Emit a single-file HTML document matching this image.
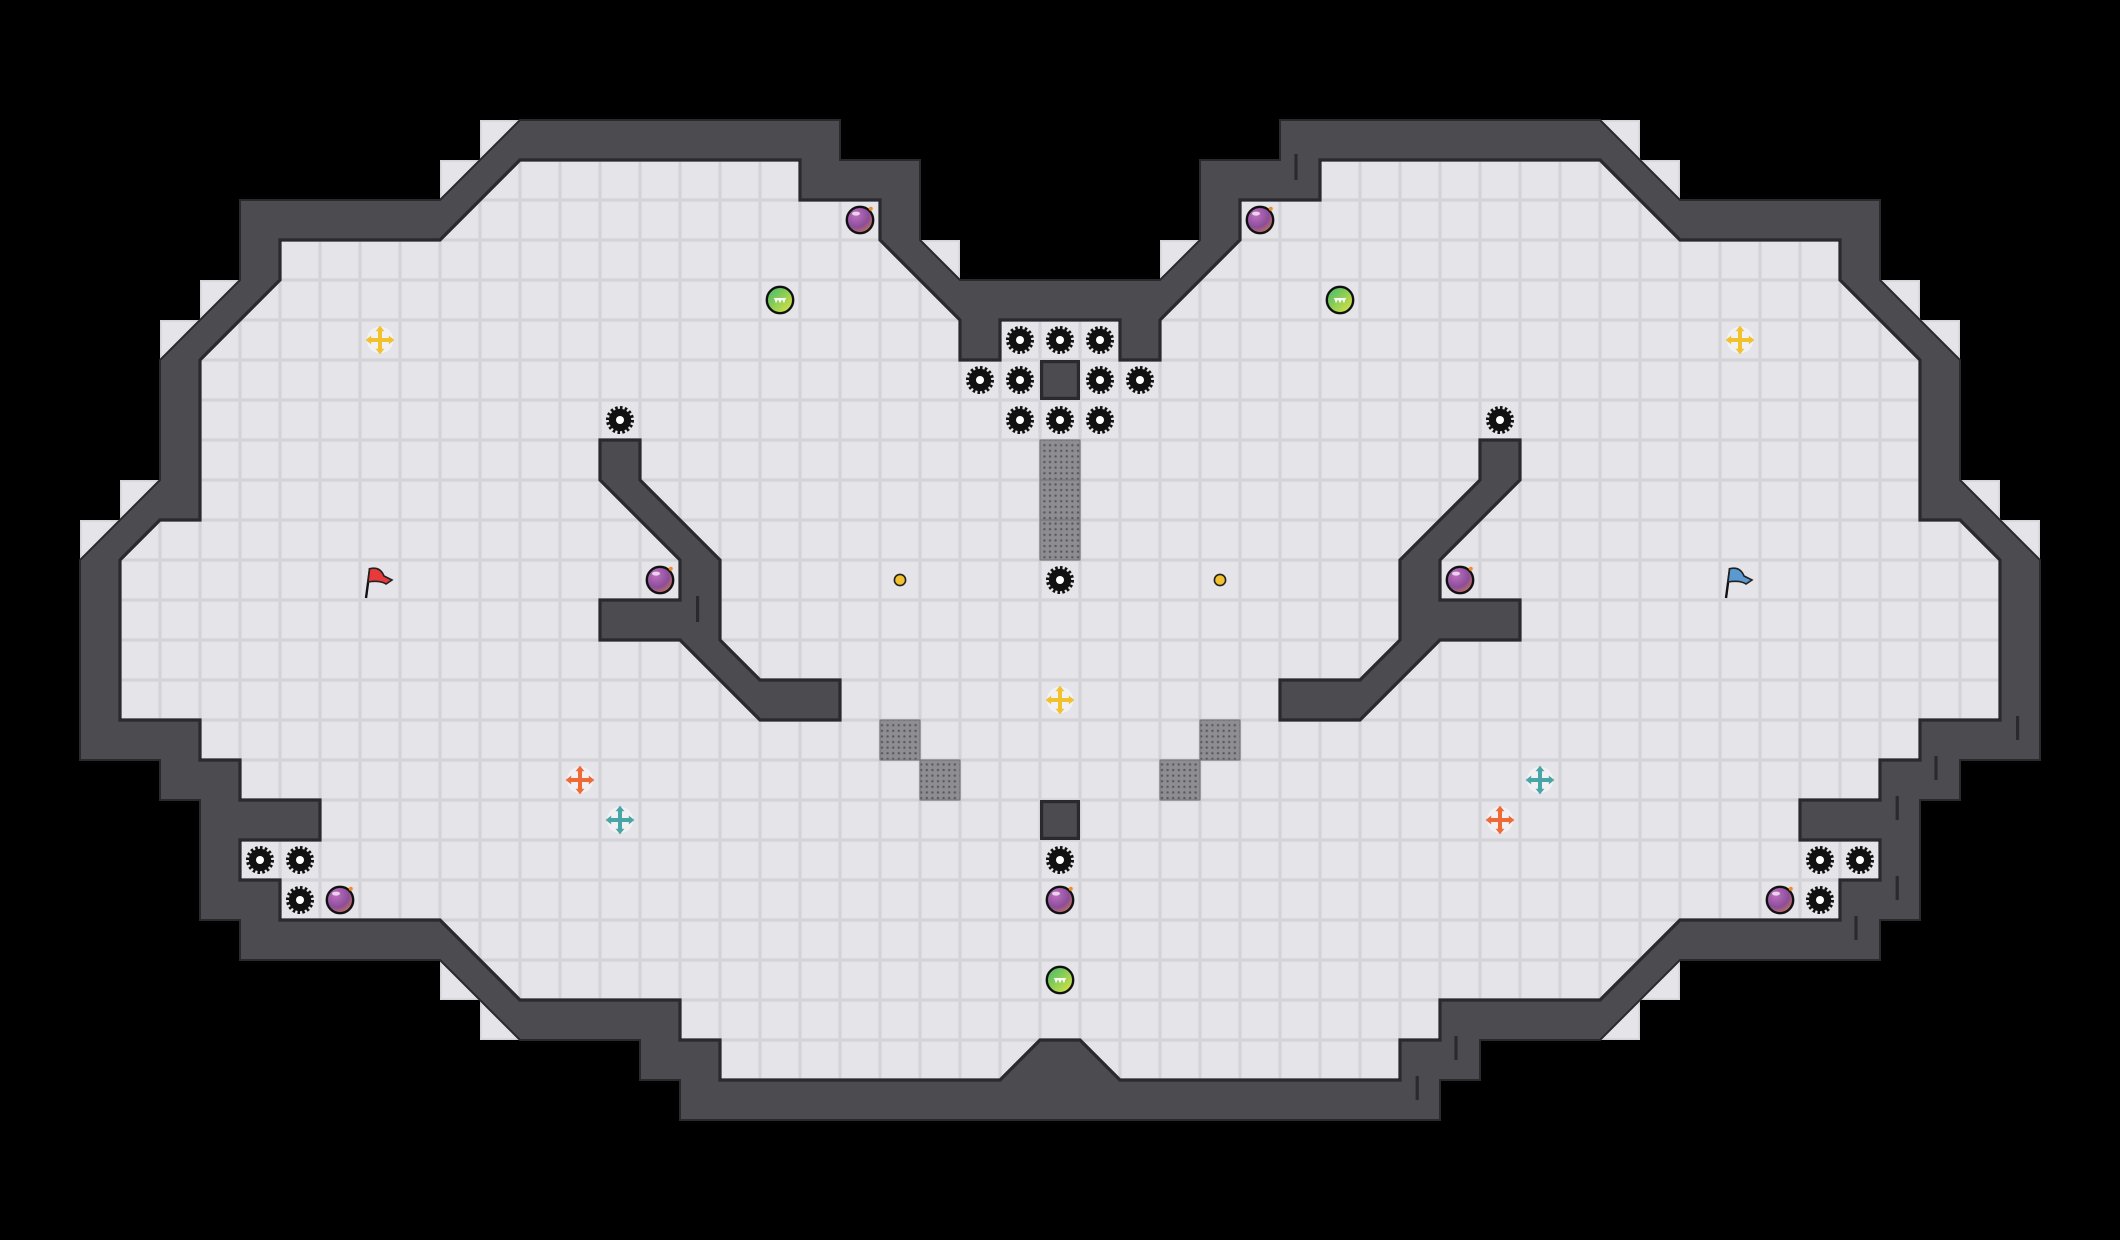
<!DOCTYPE html>
<html><head><meta charset="utf-8"><style>html,body{margin:0;padding:0;background:#000;}svg{display:block}</style></head>
<body>
<svg width="2120" height="1240" viewBox="0 0 2120 1240" xmlns="http://www.w3.org/2000/svg">
<defs>
<pattern id="tile" patternUnits="userSpaceOnUse" width="1" height="1">
<rect width="1" height="1" fill="#d3d3d8"/>
<rect x="0.04" y="0.04" width="0.92" height="0.92" fill="#e5e5e9"/>
</pattern>
<pattern id="dots" patternUnits="userSpaceOnUse" width="0.14" height="0.14">
<rect width="0.14" height="0.14" fill="#8e8e92"/>
<circle cx="0.07" cy="0.07" r="0.03" fill="#5a5a5e"/>
</pattern>
<radialGradient id="bomb" cx="0.35" cy="0.3" r="0.8">
<stop offset="0" stop-color="#c070c0"/><stop offset="0.6" stop-color="#8a4e9a"/><stop offset="1" stop-color="#d0784a"/>
</radialGradient>
<linearGradient id="green" x1="0" y1="0" x2="1" y2="1">
<stop offset="0" stop-color="#3cb86a"/><stop offset="1" stop-color="#e6e640"/>
</linearGradient>
<g id="gear">
<circle r="0.3" fill="none" stroke="#111" stroke-width="0.1" stroke-dasharray="0.062 0.055"/>
<circle r="0.28" fill="#111"/>
<circle r="0.1" fill="#fff"/>
</g>
<g id="bombg">
<circle r="0.33" fill="url(#bomb)" stroke="#111" stroke-width="0.06"/>
<ellipse cx="-0.1" cy="-0.16" rx="0.1" ry="0.05" fill="#fff" opacity="0.7"/>
<circle cx="0.27" cy="-0.28" r="0.05" fill="#f0902a"/>
</g>
<g id="ball">
<circle r="0.33" fill="url(#green)" stroke="#111" stroke-width="0.06"/>
<path d="M-0.15,-0.05 L0.15,-0.05 L0.1,0.08 L0.05,-0.02 L0,0.08 L-0.05,-0.02 L-0.1,0.08 Z" fill="#fff"/>
</g>
<g id="cross">
<circle r="0.33" fill="#f2f2f4" opacity="0.9"/>
<rect x="-0.05" y="-0.25" width="0.1" height="0.5"/>
<rect x="-0.25" y="-0.05" width="0.5" height="0.1"/>
<path d="M0,-0.36 L-0.11,-0.22 L0.11,-0.22Z M0,0.36 L-0.11,0.22 L0.11,0.22Z M-0.36,0 L-0.22,-0.11 L-0.22,0.11Z M0.36,0 L0.22,-0.11 L0.22,0.11Z"/>
</g>
</defs>
<rect width="2120" height="1240" fill="#000"/>
<g transform="scale(40)">
<!-- light tiles outside diagonals -->
<g fill="url(#tile)">
<rect x="23" y="6" width="1" height="1"/><rect x="12" y="3" width="1" height="1"/><rect x="11" y="4" width="1" height="1"/>
<rect x="5" y="7" width="1" height="1"/><rect x="4" y="8" width="1" height="1"/><rect x="3" y="12" width="1" height="1"/>
<rect x="2" y="13" width="1" height="1"/><rect x="11" y="24" width="1" height="1"/><rect x="12" y="25" width="1" height="1"/>
<rect x="29" y="6" width="1" height="1"/><rect x="40" y="3" width="1" height="1"/><rect x="41" y="4" width="1" height="1"/>
<rect x="47" y="7" width="1" height="1"/><rect x="48" y="8" width="1" height="1"/><rect x="49" y="12" width="1" height="1"/>
<rect x="50" y="13" width="1" height="1"/><rect x="41" y="24" width="1" height="1"/><rect x="40" y="25" width="1" height="1"/>
</g>
<polygon fill="#4b4b50" stroke="#2a2a2e" stroke-width="0.05" points="24,7 23,6 23,4 21,4 21,3 13,3 11,5 6,5 6,7 4,9 4,12 2,14 2,19 4,19 4,20 5,20 5,23 6,23 6,24 11,24 13,26 16,26 16,27 17,27 17,28 36,28 36,27 37,27 37,26 40,26 42,24 47,24 47,23 48,23 48,20 49,20 49,19 51,19 51,14 49,12 49,9 47,7 47,5 42,5 40,3 32,3 32,4 30,4 30,6 29,7"/>
<polygon fill="url(#tile)" stroke="#2a2a2e" stroke-width="0.08" points="25,8 25,9 24,9 24,8 22,6 22,5 20,5 20,4 13,4 11,6 7,6 7,7 5,9 5,13 4,13 3,14 3,18 5,18 5,19 6,19 6,20 8,20 8,21 6,21 6,22 7,22 7,23 11,23 13,25 17,25 17,26 18,26 18,27 25,27 26,26 27,26 28,27 35,27 35,26 36,26 36,25 40,25 42,23 46,23 46,22 47,22 47,21 45,21 45,20 47,20 47,19 48,19 48,18 50,18 50,14 49,13 48,13 48,9 46,7 46,6 42,6 40,4 33,4 33,5 31,5 31,6 29,8 29,9 28,9 28,8"/>
<g fill="#4b4b50" stroke="#2a2a2e" stroke-width="0.08">
<polygon points="15,11 16,11 16,12 18,14 18,16 19,17 21,17 21,18 19,18 17,16 15,16 15,15 17,15 17,14 15,12"/>
<polygon points="38,11 37,11 37,12 35,14 35,16 34,17 32,17 32,18 34,18 36,16 38,16 38,15 36,15 36,14 38,12"/>
<rect x="26.04" y="9.04" width="0.92" height="0.92"/>
<rect x="26.04" y="20.04" width="0.92" height="0.92"/>
</g>
<g fill="url(#dots)" stroke="#777" stroke-width="0.03">
<rect x="26" y="11" width="1" height="1"/><rect x="26" y="12" width="1" height="1"/><rect x="26" y="13" width="1" height="1"/>
<rect x="22" y="18" width="1" height="1"/><rect x="23" y="19" width="1" height="1"/>
<rect x="30" y="18" width="1" height="1"/><rect x="29" y="19" width="1" height="1"/>
</g>
<g stroke="#2a2a2e" stroke-width="0.08">
<line x1="32.4" y1="3.85" x2="32.4" y2="4.5"/><line x1="17.44" y1="14.9" x2="17.44" y2="15.55"/>
<line x1="50.44" y1="17.9" x2="50.44" y2="18.5"/><line x1="48.4" y1="18.9" x2="48.4" y2="19.5"/>
<line x1="47.43" y1="19.9" x2="47.43" y2="20.5"/><line x1="47.43" y1="21.9" x2="47.43" y2="22.5"/>
<line x1="46.4" y1="22.9" x2="46.4" y2="23.5"/><line x1="36.4" y1="25.9" x2="36.4" y2="26.5"/>
<line x1="35.43" y1="26.9" x2="35.43" y2="27.5"/>
</g>
<!-- gears -->
<use href="#gear" x="25.5" y="8.5"/><use href="#gear" x="26.5" y="8.5"/><use href="#gear" x="27.5" y="8.5"/>
<use href="#gear" x="24.5" y="9.5"/><use href="#gear" x="25.5" y="9.5"/><use href="#gear" x="27.5" y="9.5"/><use href="#gear" x="28.5" y="9.5"/>
<use href="#gear" x="25.5" y="10.5"/><use href="#gear" x="26.5" y="10.5"/><use href="#gear" x="27.5" y="10.5"/>
<use href="#gear" x="15.5" y="10.5"/><use href="#gear" x="37.5" y="10.5"/>
<use href="#gear" x="26.5" y="14.5"/><use href="#gear" x="26.5" y="21.5"/>
<use href="#gear" x="6.5" y="21.5"/><use href="#gear" x="7.5" y="21.5"/><use href="#gear" x="7.5" y="22.5"/>
<use href="#gear" x="45.5" y="21.5"/><use href="#gear" x="46.5" y="21.5"/><use href="#gear" x="45.5" y="22.5"/>
<!-- bombs -->
<use href="#bombg" x="21.5" y="5.5"/><use href="#bombg" x="31.5" y="5.5"/>
<use href="#bombg" x="16.5" y="14.5"/><use href="#bombg" x="36.5" y="14.5"/>
<use href="#bombg" x="8.5" y="22.5"/><use href="#bombg" x="44.5" y="22.5"/><use href="#bombg" x="26.5" y="22.5"/>
<!-- green balls -->
<use href="#ball" x="19.5" y="7.5"/><use href="#ball" x="33.5" y="7.5"/><use href="#ball" x="26.5" y="24.5"/>
<!-- crosses -->
<use href="#cross" x="9.5" y="8.5" fill="#f2c12e"/><use href="#cross" x="43.5" y="8.5" fill="#f2c12e"/><use href="#cross" x="26.5" y="17.5" fill="#f2c12e"/>
<use href="#cross" x="14.5" y="19.5" fill="#f06a38"/><use href="#cross" x="37.5" y="20.5" fill="#f06a38"/>
<use href="#cross" x="15.5" y="20.5" fill="#4aa6a6"/><use href="#cross" x="38.5" y="19.5" fill="#4aa6a6"/>
<!-- yellow dots -->
<ellipse cx="22.5" cy="14.5" rx="0.14" ry="0.14" fill="#f2c12e" stroke="#222" stroke-width="0.04"/>
<ellipse cx="30.5" cy="14.5" rx="0.14" ry="0.14" fill="#f2c12e" stroke="#222" stroke-width="0.04"/>
<!-- flags -->
<g transform="translate(9.5,14.5)">
<line x1="-0.35" y1="0.45" x2="-0.25" y2="-0.3" stroke="#111" stroke-width="0.06"/>
<path d="M-0.26,-0.28 Q0,-0.35 0.1,-0.1 L0.3,0 L0.15,0.1 Q0,0 -0.3,0.05 Z" fill="#e83a3a" stroke="#222" stroke-width="0.04"/>
</g>
<g transform="translate(43.5,14.5)">
<line x1="-0.35" y1="0.45" x2="-0.25" y2="-0.3" stroke="#111" stroke-width="0.06"/>
<path d="M-0.26,-0.28 Q0,-0.35 0.1,-0.1 L0.3,0 L0.15,0.1 Q0,0 -0.3,0.05 Z" fill="#5a9ad0" stroke="#222" stroke-width="0.04"/>
</g>
</g>
</svg>
</body></html>
